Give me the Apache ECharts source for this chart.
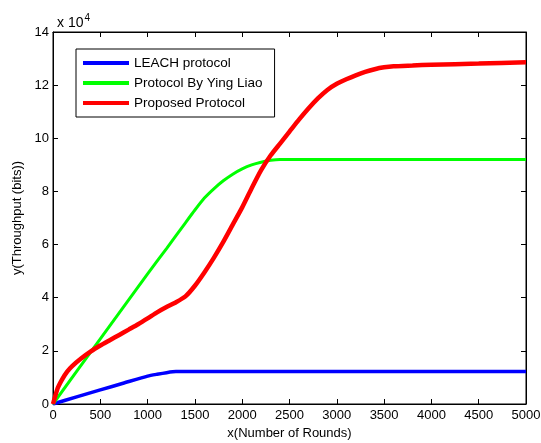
<!DOCTYPE html>
<html>
<head>
<meta charset="utf-8">
<script src="https://cdn.jsdelivr.net/npm/echarts@6/dist/echarts.min.js"></script>
<style>
  html, body { margin: 0; padding: 0; background: #fff; }
  #echart { width: 541px; height: 443px; }
</style>
</head>
<body>
<div id="echart"></div>
<script>
// values on the y axis are in units of 10^4 bits
const seriesNames = ['LEACH protocol', 'Protocol By Ying Liao', 'Proposed Protocol'];
const seriesColors = ['#0000ff', '#00ff00', '#ff0000'];

const leachX = [0, 250, 500, 750, 1000, 1100, 1200, 1300, 1500, 2000, 2500, 3000, 3500, 4000, 4500, 5000];
const leachY = [0, 0.27, 0.53, 0.79, 1.05, 1.12, 1.18, 1.22, 1.22, 1.22, 1.22, 1.22, 1.22, 1.22, 1.22, 1.22];

const liaoX = [0, 500, 1000, 1200, 1400, 1500, 1600, 1700, 1800, 1900, 2000, 2100, 2200, 2300, 2400, 2500, 3000, 3500, 4000, 4500, 5000];
const liaoY = [0, 2.45, 4.9, 5.85, 6.82, 7.3, 7.75, 8.1, 8.4, 8.65, 8.85, 9.0, 9.1, 9.17, 9.2, 9.2, 9.2, 9.2, 9.2, 9.2, 9.2];

const propX = [0, 50, 100, 150, 200, 300, 400, 500, 600, 700, 800, 900, 1000, 1100, 1200, 1300, 1400, 1500, 1600, 1700, 1800, 1900, 2000, 2100, 2200, 2300, 2400, 2500, 2600, 2700, 2800, 2900, 3000, 3100, 3200, 3300, 3400, 3500, 3600, 3800, 4000, 4500, 5000];
const propY = [0, 0.6, 0.95, 1.22, 1.42, 1.72, 1.98, 2.2, 2.4, 2.6, 2.8, 3.0, 3.22, 3.45, 3.65, 3.83, 4.05, 4.45, 4.95, 5.5, 6.1, 6.75, 7.4, 8.12, 8.8, 9.35, 9.8, 10.25, 10.7, 11.12, 11.5, 11.82, 12.05, 12.22, 12.37, 12.5, 12.6, 12.67, 12.71, 12.74, 12.77, 12.81, 12.86];

function pairs(xs, ys) {
    return xs.map((x, i) => [x, ys[i]]);
}

const FONT = 'Liberation Sans';
const chart = echarts.init(document.getElementById('echart'));

function ticks() {
    return { show: true, inside: true, length: 5, lineStyle: { color: '#000', width: 1 } };
}
function line() {
    return { show: true, onZero: false, lineStyle: { color: '#000', width: 1 } };
}

const option = {
    animation: false,
    textStyle: { fontFamily: FONT },
    grid: {
        left: 53, right: 15, top: 32, bottom: 39,
        outerBoundsMode: 'none', containLabel: false,
        show: true, borderColor: '#000', borderWidth: 1
    },
    title: {
        text: 'x 10{s|4}',
        left: 52, top: 8,
        textStyle: {
            fontFamily: FONT, fontSize: 14, fontWeight: 'normal', color: '#000',
            rich: { s: { fontFamily: FONT, fontSize: 10, verticalAlign: 'top', padding: [0, 0, 10, 1], color: '#000' } }
        }
    },
    legend: {
        orient: 'vertical',
        left: 76, top: 49,
        padding: [7, 12, 7, 7],
        itemGap: 6,
        itemWidth: 46, itemHeight: 4,
        backgroundColor: '#fff',
        borderColor: '#000', borderWidth: 1, borderRadius: 0,
        icon: 'rect',
        textStyle: { fontFamily: FONT, fontSize: 13.5, color: '#000' },
        data: seriesNames
    },
    xAxis: [{
        type: 'value', min: 0, max: 5000, interval: 500,
        name: 'x(Number of Rounds)', nameLocation: 'middle', nameGap: 23,
        nameTextStyle: { fontFamily: FONT, fontSize: 13, color: '#000' },
        axisLine: line(),
        axisTick: ticks(),
        axisLabel: { color: '#000', fontSize: 13, margin: 5, fontFamily: FONT, formatter: v => String(v) },
        splitLine: { show: false }
    }, {
        type: 'value', min: 0, max: 5000, interval: 500, position: 'top',
        axisLine: line(),
        axisTick: ticks(), axisLabel: { show: false }, splitLine: { show: false }
    }],
    yAxis: [{
        type: 'value', min: 0, max: 14, interval: 2,
        name: 'y(Throughput (bits))', nameLocation: 'middle', nameGap: 27,
        nameTextStyle: { fontFamily: FONT, fontSize: 13, color: '#000' },
        axisLine: line(),
        axisTick: ticks(),
        axisLabel: { color: '#000', fontSize: 13, margin: 4, fontFamily: FONT },
        splitLine: { show: false }
    }, {
        type: 'value', min: 0, max: 14, interval: 2, position: 'right',
        axisLine: line(),
        axisTick: ticks(), axisLabel: { show: false }, splitLine: { show: false }
    }],
    series: [
        {
            name: seriesNames[0], type: 'line', symbol: 'none', smooth: 0.2,
            data: pairs(leachX, leachY),
            itemStyle: { color: seriesColors[0] },
            lineStyle: { color: seriesColors[0], width: 3.5 }
        },
        {
            name: seriesNames[1], type: 'line', symbol: 'none', smooth: 0.2,
            data: pairs(liaoX, liaoY),
            itemStyle: { color: seriesColors[1] },
            lineStyle: { color: seriesColors[1], width: 3 }
        },
        {
            name: seriesNames[2], type: 'line', symbol: 'none', smooth: 0.2,
            data: pairs(propX, propY),
            itemStyle: { color: seriesColors[2] },
            lineStyle: { color: seriesColors[2], width: 4.5 }
        }
    ]
};

chart.setOption(option);
</script>
</body>
</html>
